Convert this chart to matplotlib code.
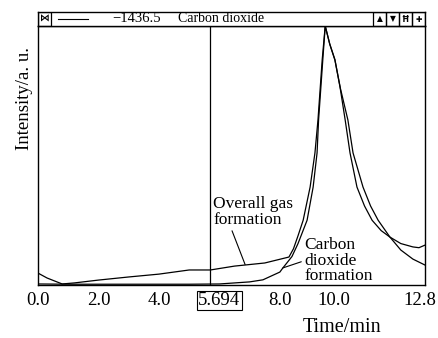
import matplotlib
matplotlib.use("Agg")
import matplotlib.pyplot as plt
import matplotlib.transforms as mtrans
from matplotlib.patches import Rectangle

plt.rcParams['font.family'] = ['Liberation Serif', 'DejaVu Sans']

# overall gas signal (normalised intensity, %)
t_gas = [0.0, 0.3, 0.8, 1.2, 2.0, 3.0, 4.0, 5.0, 5.7, 6.5, 7.5, 8.3, 8.45, 8.6, 8.77,
         9.0, 9.16, 9.26, 9.4, 9.5, 9.65, 9.82, 9.99, 10.16, 10.32, 10.55, 10.8,
         11.05, 11.35, 11.64, 12.0, 12.4, 12.6, 12.8]
i_gas = [4.6, 2.7, 0.4, 0.8, 1.9, 3.1, 4.2, 5.8, 5.8, 7.3, 8.5, 10.8, 14.0, 19.0, 25.0,
         37.8, 51.0, 63.7, 87.0, 100.0, 93.0, 86.9, 76.4, 63.7, 51.0, 37.8, 30.5,
         25.0, 21.0, 18.5, 16.0, 14.7, 14.4, 15.4]

# carbon dioxide signal
t_co2 = [0.0, 1.0, 2.0, 3.0, 4.0, 5.0, 6.0, 6.5, 7.0, 7.44, 8.0, 8.1, 8.23, 8.4, 8.6,
         8.9, 9.1, 9.23, 9.28, 9.42, 9.5, 9.65, 9.82, 10.0, 10.25, 10.42, 10.75,
         11.0, 11.25, 11.64, 12.0, 12.4, 12.8]
i_co2 = [0.4, 0.3, 0.3, 0.3, 0.3, 0.3, 0.4, 0.8, 1.2, 2.0, 5.0, 6.6, 8.5, 11.0, 16.0,
         25.0, 37.8, 51.0, 63.7, 87.0, 100.0, 93.0, 87.0, 76.0, 63.7, 51.0, 37.8,
         30.5, 25.0, 18.5, 13.5, 10.0, 7.7]

cursor_t = 5.694
tick_pos = [0.0, 2.0, 4.0, 6.0, 8.0, 10.0, 12.8]
tick_txt = ['0.0', '2.0', '4.0', '5.694', '8.0', '10.0', '12.8']

fig = plt.figure(figsize=(4.39, 3.38), dpi=100)
ax = fig.add_axes([38/439, 53/338, 387/439, 259/338])

ax.plot(t_gas, i_gas, color='black', lw=0.9)
ax.plot(t_co2, i_co2, color='black', lw=0.9)
ax.axvline(cursor_t, color='black', lw=0.9)

ax.set_xlim(0, 12.8)
ax.set_ylim(0, 100)
ax.set_yticks([])
ax.set_xticks(tick_pos)
ax.set_xticklabels(tick_txt, fontsize=13.5)
ax.tick_params(axis='x', which='major', length=0, pad=5)
ax.set_xticks([10.0], minor=True)
ax.tick_params(axis='x', which='minor', length=3, width=0.8)
for lab in ax.get_xticklabels():
    txt = lab.get_text()
    if txt == '5.694':
        lab.set_bbox(dict(facecolor='none', edgecolor='black', lw=0.8, pad=1.0))
    elif txt == '10.0':
        lab.set_transform(lab.get_transform() +
                          mtrans.ScaledTranslation(-6/100, 0, fig.dpi_scale_trans))
    elif txt == '12.8':
        lab.set_transform(lab.get_transform() +
                          mtrans.ScaledTranslation(-5/100, 0, fig.dpi_scale_trans))
for s in ax.spines.values():
    s.set_linewidth(1.0)

fig.text(342/439, 1 - 328/338, 'Time/min', fontsize=14.5, ha='center', va='center')
fig.text(0.055, 0.71, 'Intensity/a. u.', rotation=90, fontsize=13.5,
         ha='center', va='center')

ax.annotate('Overall gas\nformation', xy=(6.85, 7.9), xytext=(5.8, 22),
            fontsize=12.5, ha='left', va='bottom', linespacing=1.0,
            arrowprops=dict(arrowstyle='-', lw=0.8, color='black',
                            shrinkA=0, shrinkB=0, relpos=(0.22, 0.0)))
ax.annotate('Carbon\ndioxide\nformation', xy=(8.1, 6.6), xytext=(8.8, 0.3),
            fontsize=12.5, ha='left', va='bottom', linespacing=0.95,
            arrowprops=dict(arrowstyle='-', lw=0.8, color='black',
                            shrinkA=0, shrinkB=0, relpos=(0.0, 0.5)))

# toolbar strip above the plot
hd = fig.add_axes([38/439, 312/338, 387/439, 14/338])
hd.set_xlim(0, 387)
hd.set_ylim(0, 14)
hd.set_xticks([])
hd.set_yticks([])
for s in hd.spines.values():
    s.set_linewidth(1.0)
hd.add_patch(Rectangle((0, 0), 13, 14, fill=False, lw=0.9))
hd.text(6.5, 7, '⋈', fontsize=7, ha='center', va='center', family='DejaVu Sans',
        fontweight='bold')
hd.plot([20, 50], [7, 7], color='black', lw=0.8)
hd.text(74, 7, '\u22121436.5', fontsize=10.5, ha='left', va='center')
hd.text(140, 7, 'Carbon dioxide', fontsize=10, ha='left', va='center')
for k, sym in enumerate(['▲', '▼', 'Ħ', '✚']):
    x0 = 335 + k * 13
    hd.add_patch(Rectangle((x0, 0), 13, 14, fill=False, lw=0.9))
    hd.text(x0 + 6.5, 7, sym, fontsize=5.5, ha='center', va='center',
            family='DejaVu Sans', fontweight='bold')

fig.savefig('out.png', dpi=100)
